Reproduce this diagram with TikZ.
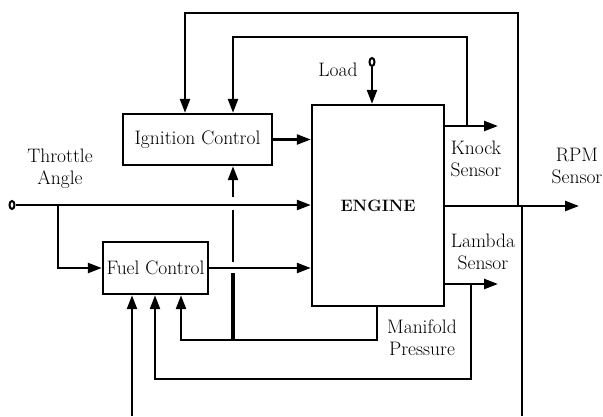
\documentclass[tikz,border=0pt]{standalone}
\usepackage{fontspec}
\usepackage{tikz}
\usetikzlibrary{arrows.meta, shapes.geometric}

\begin{document}
\begin{tikzpicture}[x=1pt, y=-1pt, line width=2.4pt,
    blk/.style={draw, rectangle, inner sep=1pt, font=\fontsize{19.5}{22}\selectfont},
    lbl/.style={align=center, font=\fontsize{19.5}{22}\selectfont},
    term/.style={draw, ellipse, inner sep=0pt, minimum width=5pt, minimum height=8pt, line width=2pt},
    arr/.style={-{Triangle[length=14pt, width=10pt]}}]
    \useasboundingbox (0,0) rectangle (603,416);
    % blocks
    \node[blk, minimum width=149pt, minimum height=51pt] (ign) at (197.5,139.5) {Ignition Control};
    \node[blk, minimum width=105pt, minimum height=52pt] (fuel) at (155.5,268) {Fuel Control};
    \node[blk, minimum width=132pt, minimum height=201pt, font=\fontsize{16.5}{18}\selectfont\bfseries] (eng) at (378,205.5) {ENGINE};
    % labels
    \node[lbl] (thrlbl) at (60,169) {Throttle\\Angle};
    \node[lbl] (loadlbl) at (338,70) {Load};
    \node[lbl] (knocklbl) at (476,159) {Knock\\Sensor};
    \node[lbl] (rpmlbl) at (577,166) {RPM\\Sensor};
    \node[lbl] (lamlbl) at (483,252) {Lambda\\Sensor};
    \node[lbl] (manlbl) at (422,338) {Manifold\\Pressure};
    % inputs
    \node[term] (thrin) at (12,205) {};
    \node[term] (loadin) at (372,62) {};
    \coordinate (br) at (58,205);
    \coordinate (botF) at (132,416);
    % sensor outputs and taps
    \coordinate (knockend) at (498,126);
    \coordinate (tapK) at (467,126);
    \coordinate (topK) at (233,37);
    \coordinate (rpmend) at (579,206);
    \coordinate (tapR) at (518,206);
    \coordinate (topR) at (185,13);
    \coordinate (botR) at (522,416);
    \coordinate (lamend) at (498,284);
    \coordinate (tapL) at (471,284);
    \coordinate (botL) at (155,379);
    \coordinate (manX) at (377,340);
    \coordinate (botM) at (181,340);
    % line hops on the manifold branch
    \coordinate (jn) at (233,340);
    \coordinate (hopA) at (233,273);
    \coordinate (hopB) at (233,262);
    \coordinate (hopC) at (233,210);
    \coordinate (hopD) at (233,197);

    \draw[arr] (thrin) -- (thrin -| eng.west);
    \draw[arr] (br) |- (fuel.west);
    \draw[arr] (fuel.east) -- (fuel.east -| eng.west);
    \draw[arr] (ign.east) -- (ign.east -| eng.west);
    \draw[arr] (loadin) -- (loadin |- eng.north);
    \draw[arr] (eng.east |- knockend) -- (knockend);
    \draw[arr] (tapK) |- (topK) -- (topK |- ign.north);
    \draw[arr] (eng.east |- rpmend) -- (rpmend);
    \draw[arr] (tapR) |- (topR) -- (topR |- ign.north);
    \draw (botR |- rpmend) -- (botR);
    \draw[arr] (eng.east |- lamend) -- (lamend);
    \draw[arr] (tapL) |- (botL) -- (botL |- fuel.south);
    \draw[arr] (manX |- eng.south) -- (manX) -- (botM) -- (botM |- fuel.south);
    \draw[arr] (botF) -- (botF |- fuel.south);
    \draw[line width=3.6pt] (jn) -- (hopA);
    \draw (hopB) -- (hopC);
    \draw[arr] (hopD) -- (hopD |- ign.south);
\end{tikzpicture}
\end{document}
